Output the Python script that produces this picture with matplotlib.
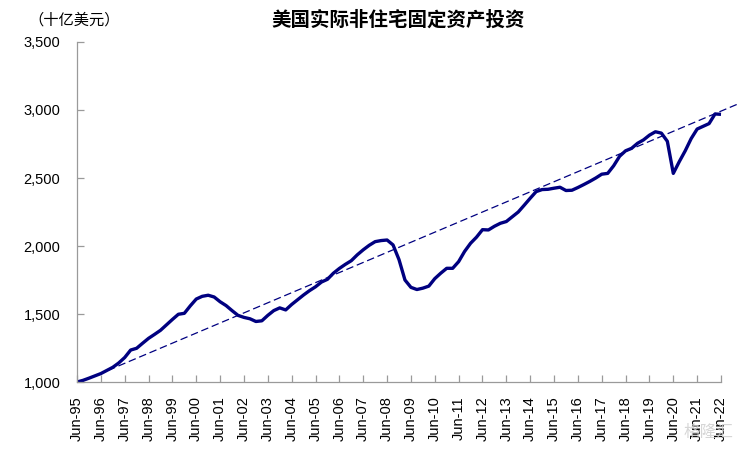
import numpy as np
import matplotlib
matplotlib.use('Agg')
import matplotlib.pyplot as plt
from matplotlib.ticker import FuncFormatter

plt.rcParams['font.family'] = ['Liberation Sans', 'Noto Sans CJK SC']

# quarterly, Jun-95 .. Jun-22 (billions of US$)
investment = [
    1000, 1012, 1028, 1045, 1062, 1085, 1108, 1140, 1180, 1235,
    1248, 1285, 1321, 1350, 1380, 1420, 1460, 1498, 1505, 1560,
    1610, 1630, 1638, 1625, 1590, 1562, 1525, 1490, 1475, 1465,
    1445, 1450, 1490, 1525, 1545, 1530, 1570, 1605, 1640, 1672,
    1700, 1735, 1755, 1800, 1835, 1865, 1892, 1935, 1972, 2005,
    2032, 2040, 2044, 2008, 1900, 1750, 1696, 1680, 1690, 1705,
    1760, 1800, 1836, 1836, 1885, 1960, 2020, 2065, 2120, 2118,
    2145, 2167, 2180, 2215, 2250, 2300, 2351, 2400, 2415, 2417,
    2425, 2432, 2408, 2410, 2430, 2452, 2475, 2500, 2528, 2534,
    2590, 2660, 2700, 2718, 2755, 2780, 2815, 2840, 2830, 2770,
    2534, 2620, 2700, 2790, 2860, 2880, 2900, 2971, 2968,
]
year_labels = ['Jun-%02d' % (y % 100) for y in range(1995, 2023)]

# dashed trend line as drawn in the source (start / end, quarter index)
trend_q = [0, 111.2]
trend_val = [989, 3051]

x = np.arange(len(investment))

fig = plt.figure(figsize=(7.46, 4.49), dpi=100)
ax = fig.add_axes([77 / 746, 67 / 449, 663 / 746, 340 / 449])

navy = '#000080'
ax.plot(trend_q, trend_val, color=navy, lw=0.9, ls=(0, (6, 3)))
ax.plot(x, investment, color=navy, lw=2.4, solid_capstyle='butt')

ax.set_xlim(0, (740 - 77) / (644 / 108))
ax.set_ylim(1000, 3500)
ax.set_yticks(range(1000, 3501, 500))
ax.yaxis.set_major_formatter(FuncFormatter(lambda v, p: '{:,.0f}'.format(v)))
ax.set_xticks(range(0, len(investment), 4))
ax.set_xticklabels(year_labels, rotation=90)

for s in ['top', 'right']:
    ax.spines[s].set_visible(False)
for s in ['left', 'bottom']:
    ax.spines[s].set_color('#9a9a9a')
    ax.spines[s].set_linewidth(0.9)
ax.spines['bottom'].set_bounds(0, len(investment) - 1)

ax.tick_params(axis='y', direction='in', length=5, width=0.9, color='#9a9a9a',
               labelsize=10.5, pad=12)
ax.tick_params(axis='x', direction='in', length=5, width=0.9, color='#9a9a9a',
               labelsize=10.5, pad=10)

fig.text(398 / 746, 1 - 20 / 449, '美国实际非住宅固定资产投资', ha='center', va='center',
         fontsize=14, fontweight='bold')
fig.text(74 / 746, 1 - 20 / 449, '（十亿美元）', ha='center', va='center', fontsize=11)
fig.text(708 / 746, 1 - 432 / 449, '格隆汇', ha='center', va='center', fontsize=12,
         color='#cccccc', alpha=0.8)

fig.savefig('out.png', dpi=100)
